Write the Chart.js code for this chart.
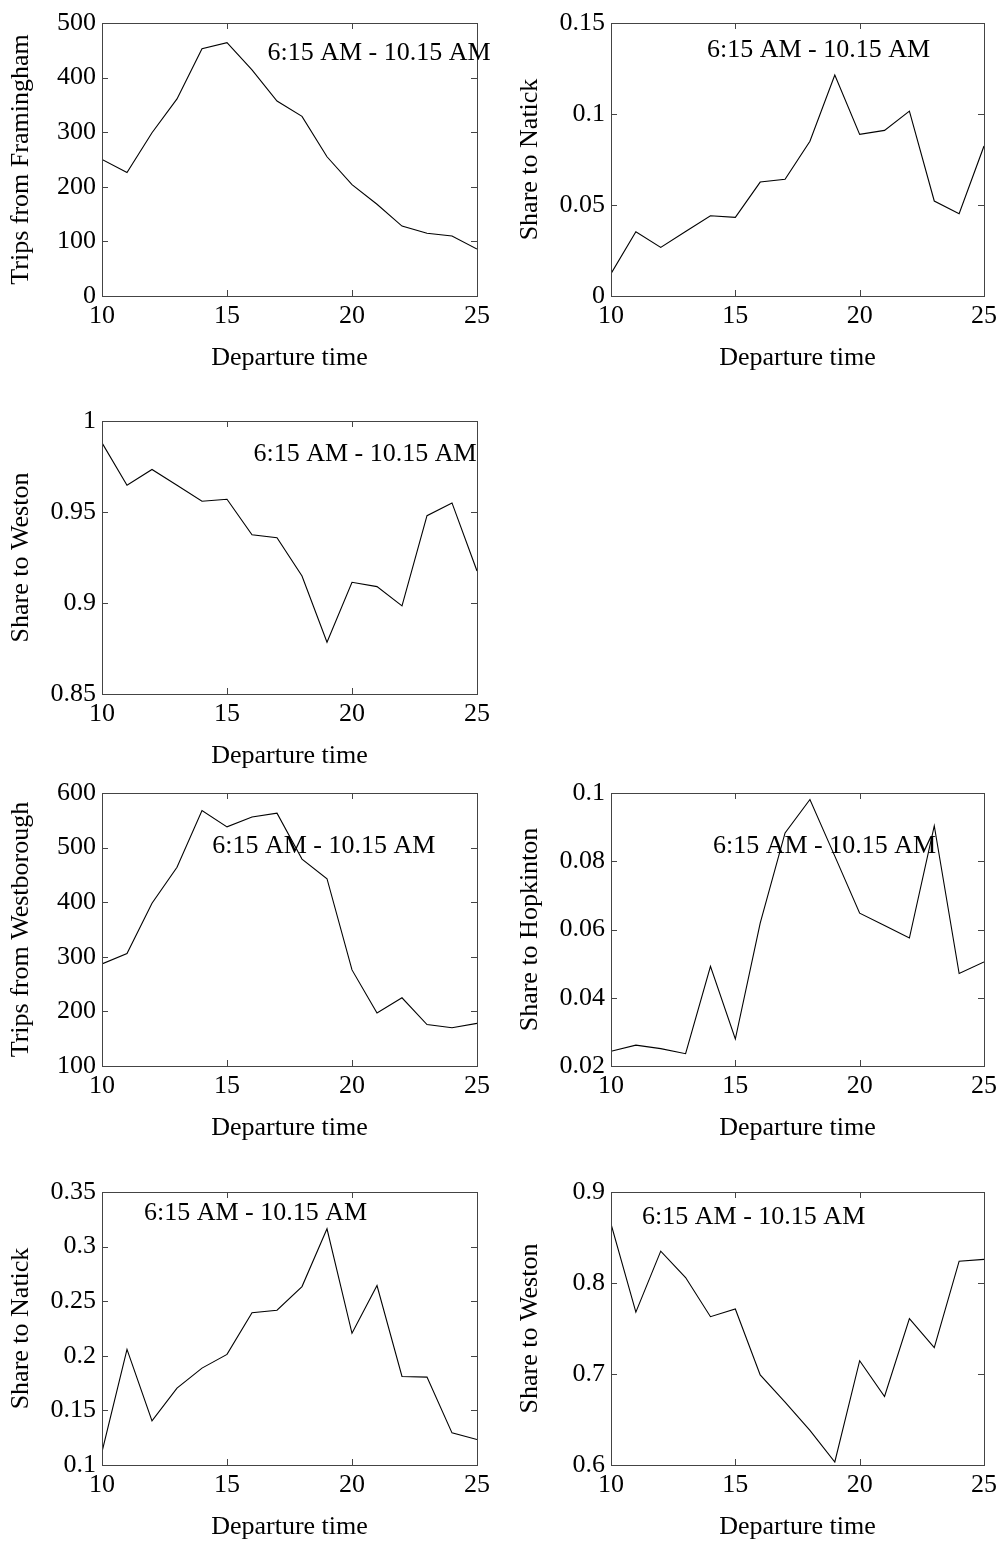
<!DOCTYPE html>
<html>
<head>
<meta charset="utf-8">
<script src="https://cdn.jsdelivr.net/npm/chart.js@4.4.1/dist/chart.umd.min.js"></script>
<style>
  html, body { margin: 0; padding: 0; background: #fff; overflow: hidden; }
  #page { position: relative; width: 1003px; height: 1543px; background: #fff; overflow: hidden; }
  #page canvas { position: absolute; }
</style>
</head>
<body>
<div id="page">
  <canvas id="c1"></canvas>
  <canvas id="c2"></canvas>
  <canvas id="c3"></canvas>
  <canvas id="c4"></canvas>
  <canvas id="c5"></canvas>
  <canvas id="c6"></canvas>
  <canvas id="c7"></canvas>
</div>
<script>
// departure time bins (x axis)
var departureTimes = [10, 11, 12, 13, 14, 15, 16, 17, 18, 19, 20, 21, 22, 23, 24, 25];
var xTicks = [10, 15, 20, 25];

// Framingham block
var tripsFramingham = [250, 226, 299, 361, 453, 464, 414, 357, 329, 255, 204, 168, 128, 115, 110, 86];
var framNatickShare = [0.0123, 0.0353, 0.0267, 0.0354, 0.0441, 0.0432, 0.0626, 0.0641, 0.085, 0.1214, 0.0888, 0.091, 0.1016, 0.0522, 0.0452, 0.0824];
var framWestonShare = [0.988, 0.9647, 0.9734, 0.9647, 0.9559, 0.957, 0.9375, 0.9359, 0.9148, 0.8784, 0.9114, 0.909, 0.8984, 0.948, 0.955, 0.9176];

// Westborough block
var tripsWestborough = [287, 306, 398, 464, 568, 538, 556, 563, 479, 443, 276, 197, 225, 176, 170, 178];
var westHopkintonShare = [0.0243, 0.0261, 0.0251, 0.0236, 0.0492, 0.0279, 0.0619, 0.0883, 0.0981, 0.0815, 0.0648, 0.0612, 0.0575, 0.0904, 0.0471, 0.0505];
var westNatickShare = [0.112, 0.2059, 0.1404, 0.1704, 0.1887, 0.2013, 0.2395, 0.2417, 0.2634, 0.3163, 0.2206, 0.2643, 0.1811, 0.1805, 0.1294, 0.1233];
var westWestonShare = [0.865, 0.768, 0.835, 0.806, 0.763, 0.7715, 0.699, 0.669, 0.638, 0.6033, 0.7146, 0.6753, 0.7609, 0.7289, 0.824, 0.826];

// y tick labels per panel
var ticksTrips1 = [0, 100, 200, 300, 400, 500];
var ticksNatick1 = [0, 0.05, 0.1, 0.15];
var ticksWeston1 = [0.85, 0.9, 0.95, 1];
var ticksTrips2 = [100, 200, 300, 400, 500, 600];
var ticksHopkinton2 = [0.02, 0.04, 0.06, 0.08, 0.1];
var ticksNatick2 = [0.1, 0.15, 0.2, 0.25, 0.3, 0.35];
var ticksWeston2 = [0.6, 0.7, 0.8, 0.9];

var NOTE = '6:15 AM - 10.15 AM';
var SERIF = '"Liberation Serif", "Times New Roman", serif';
var FONT_SIZE = 26;

Chart.defaults.font.family = SERIF;
Chart.defaults.color = '#000';

// box around the plot area with small inward ticks on all four sides
var frameTicks = {
    id: 'frameTicks',
    afterDatasetsDraw: function(chart) {
        var ctx = chart.ctx;
        var a = chart.chartArea;
        var xs = chart.scales.x, ys = chart.scales.y;
        var tl = 6;
        ctx.save();
        ctx.strokeStyle = '#444';
        ctx.lineWidth = 1;
        ctx.beginPath();
        xs.ticks.forEach(function(t) {
            var px = Math.round(xs.getPixelForValue(t.value)) + 0.5;
            ctx.moveTo(px, a.bottom); ctx.lineTo(px, a.bottom - tl);
            ctx.moveTo(px, a.top); ctx.lineTo(px, a.top + tl);
        });
        ys.ticks.forEach(function(t) {
            var py = Math.round(ys.getPixelForValue(t.value)) + 0.5;
            ctx.moveTo(a.left, py); ctx.lineTo(a.left + tl, py);
            ctx.moveTo(a.right, py); ctx.lineTo(a.right - tl, py);
        });
        ctx.stroke();
        ctx.strokeRect(Math.round(a.left) + 0.5, Math.round(a.top) + 0.5,
            Math.round(a.right - a.left), Math.round(a.bottom - a.top));
        ctx.restore();
    }
};

// the "6:15 AM - 10.15 AM" label, anchored in data units
var timeNote = {
    id: 'timeNote',
    afterDraw: function(chart, args, opts) {
        var ctx = chart.ctx;
        ctx.save();
        ctx.font = FONT_SIZE + 'px ' + SERIF;
        ctx.fillStyle = '#000';
        ctx.textAlign = 'left';
        ctx.textBaseline = 'middle';
        ctx.fillText(NOTE, chart.scales.x.getPixelForValue(opts.x), chart.scales.y.getPixelForValue(opts.y));
        ctx.restore();
    }
};

function makePanel(id, left, top, width, series, yTicks, yTitle, note) {
    var canvas = document.getElementById(id);
    canvas.width = width;
    canvas.height = 374;
    canvas.style.left = left + 'px';
    canvas.style.top = top + 'px';

    var points = series.map(function(v, i) {
        return {x: departureTimes[i], y: v};
    });

    return new Chart(canvas.getContext('2d'), {
        type: 'line',
        data: {
            datasets: [{
                data: points,
                borderColor: '#000',
                borderWidth: 1.1,
                pointRadius: 0,
                tension: 0,
                fill: false
            }]
        },
        options: {
            responsive: false,
            animation: false,
            devicePixelRatio: 1,
            layout: {padding: {left: 0, right: width === 500 ? 23 : 19, top: 23, bottom: 0}},
            plugins: {
                legend: {display: false},
                tooltip: {enabled: false},
                timeNote: note
            },
            scales: {
                x: {
                    type: 'linear',
                    min: 10,
                    max: 25,
                    afterBuildTicks: function(s) {
                        s.ticks = xTicks.map(function(v) { return {value: v}; });
                    },
                    afterFit: function(s) { s.height = 78; },
                    grid: {display: false, drawTicks: false},
                    border: {display: false},
                    ticks: {
                        font: {size: FONT_SIZE},
                        padding: 5,
                        maxRotation: 0,
                        callback: function(v) { return String(v); }
                    },
                    title: {
                        display: true,
                        text: 'Departure time',
                        font: {size: FONT_SIZE},
                        padding: {top: 0, bottom: 0}
                    }
                },
                y: {
                    type: 'linear',
                    min: yTicks[0],
                    max: yTicks[yTicks.length - 1],
                    afterBuildTicks: function(s) {
                        s.ticks = yTicks.map(function(v) { return {value: v}; });
                    },
                    afterFit: function(s) { s.width = 102; },
                    grid: {display: false, drawTicks: false},
                    border: {display: false},
                    ticks: {
                        font: {size: FONT_SIZE},
                        padding: 6,
                        callback: function(v) { return String(v); }
                    },
                    title: {
                        display: true,
                        text: yTitle,
                        font: {size: FONT_SIZE},
                        padding: {top: 6, bottom: 0}
                    }
                }
            }
        },
        plugins: [frameTicks, timeNote]
    });
}

makePanel('c1', 0, 0, 500, tripsFramingham, ticksTrips1, 'Trips from Framingham', {x: 16.62, y: 445});
makePanel('c2', 509, 0, 494, framNatickShare, ticksNatick1, 'Share to Natick', {x: 13.86, y: 0.135});
makePanel('c3', 0, 398, 500, framWestonShare, ticksWeston1, 'Share to Weston', {x: 16.06, y: 0.982});
makePanel('c4', 0, 770, 500, tripsWestborough, ticksTrips2, 'Trips from Westborough', {x: 14.41, y: 503});
makePanel('c5', 509, 770, 494, westHopkintonShare, ticksHopkinton2, 'Share to Hopkinton', {x: 14.10, y: 0.0845});
makePanel('c6', 0, 1169, 500, westNatickShare, ticksNatick2, 'Share to Natick', {x: 11.68, y: 0.331});
makePanel('c7', 509, 1169, 494, westWestonShare, ticksWeston2, 'Share to Weston', {x: 11.25, y: 0.8725});
</script>
</body>
</html>
